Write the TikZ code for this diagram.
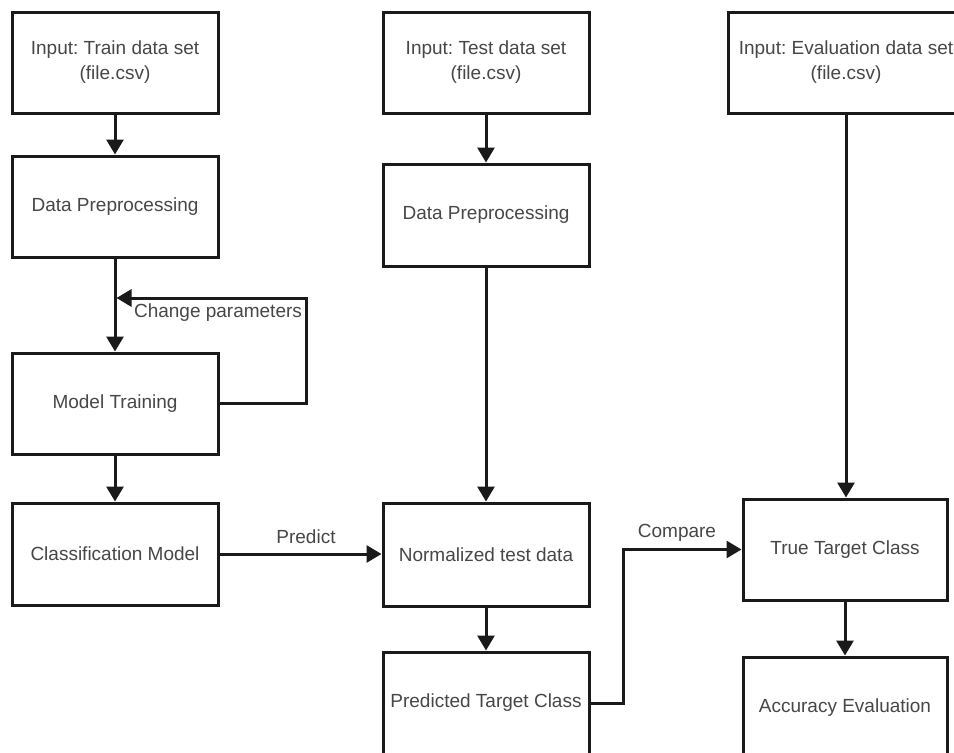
\documentclass[tikz,border=0pt]{standalone}
\usepackage{fontspec}
\setmainfont{Liberation Sans}
\usetikzlibrary{arrows.meta}
\definecolor{txt}{HTML}{474747}
\definecolor{ln}{HTML}{1A1A1A}
\begin{document}
\frenchspacing
\begin{tikzpicture}[x=1pt,y=-1pt,
  box/.style={draw=ln, line width=3pt, rectangle, inner sep=0pt, align=center, text=txt, font=\fontsize{19}{25}\selectfont},
  conn/.style={draw=ln, line width=3pt, -{Triangle[length=15pt,width=17pt]}},
  lbl/.style={text=txt, font=\fontsize{19}{22}\selectfont, inner sep=0pt}]
\useasboundingbox[fill=white] (0,0) rectangle (954,753);
% left column
\node[box, minimum width=206pt, minimum height=101pt] (tr) at (115,62.5) {Input: Train data set\\(file.csv)};
\node[box, minimum width=206pt, minimum height=101pt] (dp1) at (115,206.5) {Data Preprocessing};
\node[box, minimum width=206pt, minimum height=101pt] (mt) at (115,403.5) {Model Training};
\node[box, minimum width=206pt, minimum height=102pt] (cm) at (115,554) {Classification Model};
% middle column
\node[box, minimum width=206pt, minimum height=101pt] (te) at (486,62.5) {Input: Test data set\\(file.csv)};
\node[box, minimum width=206pt, minimum height=102pt] (dp2) at (486,215) {Data Preprocessing};
\node[box, minimum width=206pt, minimum height=103pt] (nt) at (486,554.5) {Normalized test data};
\node[box, minimum width=206pt, minimum height=102pt] (pt) at (486,703) {Predicted Target Class};
% right column
\node[box, minimum width=236pt, minimum height=101pt] (ev) at (846,62.5) {Input: Evaluation data set\\(file.csv)};
\node[box, minimum width=204pt, minimum height=101pt] (tt) at (845,549.5) {True Target Class};
\node[box, minimum width=204pt, minimum height=102pt] (ae) at (845,708) {Accuracy Evaluation};
% connectors
\draw[conn] (tr) -- (dp1);
\draw[conn] (dp1) -- (mt);
\draw[conn] (mt) -- (cm);
\draw[conn] (te) -- (dp2);
\draw[conn] (dp2) -- (nt);
\draw[conn] (nt) -- (pt);
\draw[conn] (ev.south) -- (ev.south |- tt.north);
\draw[conn] (tt) -- (ae);
\draw[conn] (cm.east) -- (cm.east -| nt.west);
\coordinate (fbend) at (116.5,298);
\draw[conn] (mt.east) -- ++(87,0) |- (fbend);
\draw[conn] (pt.east) -- ++(33,0) |- (tt.west);
% labels
\node[lbl] (lpredict) at (306,537) {Predict};
\node[lbl] (lchange) at (218,313) {Change parameters};
\node[lbl] (lcompare) at (677,533) {Compare};
\end{tikzpicture}
\end{document}
